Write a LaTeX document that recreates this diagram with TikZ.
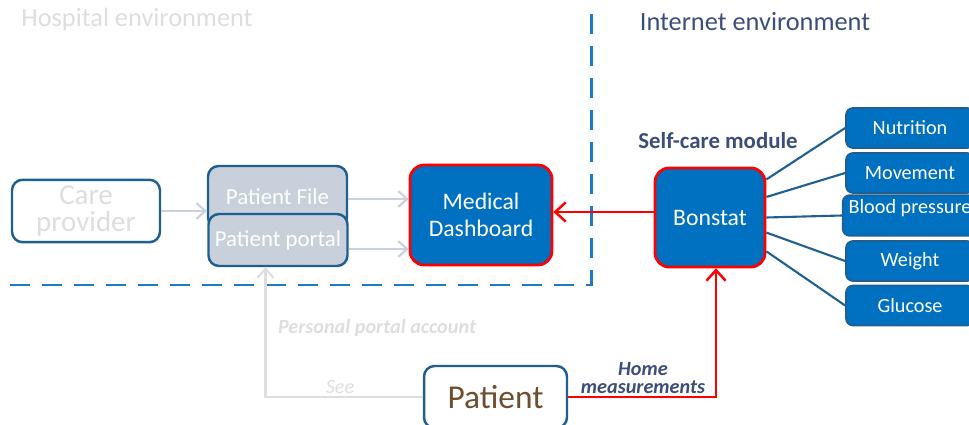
\documentclass[tikz,border=0pt]{standalone}
\usepackage{fontspec}
\setmainfont{Carlito}
\usetikzlibrary{arrows.meta}
\definecolor{boxblue}{HTML}{0070C0}
\definecolor{edgeblue}{HTML}{1F5F92}
\definecolor{fileblue}{HTML}{C8D0DC}
\definecolor{lightgrey}{HTML}{DEDEDE}
\definecolor{arrowgrey}{HTML}{C9D1DC}
\definecolor{textblue}{HTML}{3B4D7A}
\definecolor{dashblue}{HTML}{1F78C8}
\definecolor{patbrown}{HTML}{6E4E2E}
\tikzset{
  env/.style={font=\fontsize{15}{17}\selectfont, anchor=center},
  greybox/.style={draw=edgeblue, line width=1.4pt, rounded corners=6pt, fill=white,
    text=lightgrey, align=center, font=\fontsize{16.5}{17}\selectfont},
  filebox/.style={draw=edgeblue, line width=1.4pt, rounded corners=6pt, fill=fileblue,
    text=white, font=\fontsize{13}{15}\selectfont,
    minimum width=2.78cm},
  keybox/.style={draw=red, line width=1.6pt, rounded corners=8pt, fill=boxblue,
    text=white, align=center, font=\fontsize{13.5}{15.5}\selectfont},
  itembox/.style={draw=edgeblue, line width=1pt, rounded corners=4pt, fill=boxblue,
    text=white, font=\fontsize{11.5}{13}\selectfont,
    minimum width=2.56cm, minimum height=0.8cm},
  greyarrow/.style={draw=arrowgrey, line width=1.2pt, -{Straight Barb[length=5pt,width=9pt]}},
  redarrow/.style={draw=red, line width=1.4pt, -{Straight Barb[length=6pt,width=11pt]}},
  spoke/.style={draw=edgeblue, line width=1.2pt},
  note/.style={font=\fontsize{11.5}{13}\selectfont\bfseries\itshape}
}
\begin{document}
\begin{tikzpicture}[x=0.02cm, y=-0.02cm]
	\useasboundingbox (0,0) rectangle (969,425);
	% environments
	\node[env, text=lightgrey] (hosp) at (137,19) {Hospital environment};
	\node[env, text=textblue] (inet) at (755,22) {Internet environment};
	\draw[dashblue, line width=1.7pt, dash pattern=on 0.4cm off 0.24cm]
		(10,285) -- (591,285) -- (591,10);
	% hospital side
	\node[greybox, minimum width=2.96cm, minimum height=1.2cm] (care) at (86,211) {Care\\[-1.5pt]provider};
	\node[filebox, minimum height=1.24cm] (pfile) at (277.5,197) {Patient File};
	\node[filebox, minimum height=1.04cm] (portal) at (278,240) {Patient portal};
	\node[keybox, minimum width=2.84cm, minimum height=2cm] (dash) at (481,215) {Medical\\Dashboard};
	\draw[greyarrow] (care.east) -- (care.east -| pfile.west);
	\draw[greyarrow] (pfile.north east |- 0,199) -- (dash.west |- 0,199);
	\draw[greyarrow] (portal.east |- 0,249) -- (dash.west |- 0,249);
	% self-care module
	\node[font=\fontsize{13}{15}\selectfont\bfseries, text=textblue] (self) at (718,141) {Self-care module};
	\node[keybox, minimum width=2.2cm, minimum height=1.98cm] (bon) at (710,217.5) {Bonstat};
	\draw[redarrow] (bon.west |- 0,212) -- (dash.east |- 0,212);
	\node[itembox] (nutr) at (910,128) {Nutrition};
	\node[itembox] (move) at (910,173) {Movement};
	\node[itembox, minimum height=0.74cm, text height=0.25cm, text depth=0.33cm] (bp) at (910,215.5) {Blood pressure};
	\node[itembox] (weig) at (910,261) {Weight};
	\node[itembox] (gluc) at (910,305.5) {Glucose};
	\draw[spoke] (bon.34) -- (nutr.west);
	\draw[spoke] (bon.20) -- (move.west);
	\draw[spoke] (bon.east) -- (bp.west);
	\draw[spoke] (bon.-15) -- (weig.west);
	\draw[spoke] (bon.-31) -- (gluc.west);
	% patient
	\node[greybox, text=patbrown, font=\fontsize{19}{21}\selectfont,
		minimum width=2.86cm, minimum height=1.24cm] (pat) at (495.5,397) {Patient};
	\draw[greyarrow, draw=lightgrey] (pat.west) -| ([xshift=-0.25cm]portal.south);
	\draw[redarrow] (pat.east) -| ([xshift=0.12cm]bon.south);
	\node[note, text=lightgrey] (acct) at (377,328) {Personal portal account};
	\node[note, text=lightgrey, font=\fontsize{11.5}{13}\selectfont\itshape] (see) at (340,387) {See};
	\node[note, text=textblue, align=center] (home) at (643,378) {Home\\[-3pt]measurements};
\end{tikzpicture}
\end{document}
